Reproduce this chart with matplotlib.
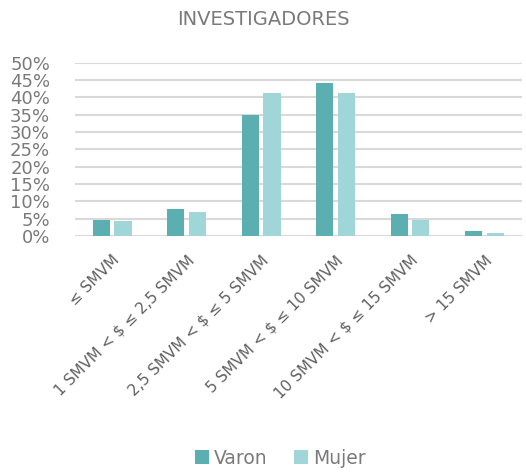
import numpy as np
import matplotlib
matplotlib.use("Agg")
import matplotlib.pyplot as plt
from matplotlib.ticker import PercentFormatter

categorias = ["≤ SMVM", "1 SMVM < $ ≤ 2,5 SMVM", "2,5 SMVM < $ ≤ 5 SMVM",
              "5 SMVM < $ ≤ 10 SMVM", "10 SMVM < $ ≤ 15 SMVM", "> 15 SMVM"]
varon = [4.6, 7.7, 34.9, 44.1, 6.3, 1.4]
mujer = [4.3, 6.8, 41.3, 41.2, 4.6, 0.8]

gris = "#7a7a7a"
plt.rcParams["font.family"] = ["DejaVu Sans"]

fig = plt.figure(figsize=(5.26, 4.74), dpi=100)
ax = fig.add_axes([0.1426, 0.502, 0.8494, 0.3657])

x = np.arange(len(categorias))
ancho = 0.23
ax.bar(x - 0.145, varon, ancho, color="#5bafb0", label="Varon", zorder=3)
ax.bar(x + 0.145, mujer, ancho, color="#a0d6d8", label="Mujer", zorder=3)

ax.set_xlim(-0.5, len(categorias) - 0.5)
ax.set_ylim(0, 50)
ax.set_yticks(np.arange(0, 51, 5))
ax.yaxis.set_major_formatter(PercentFormatter(decimals=0))
ax.grid(axis="y", color="#d9d9d9", linewidth=1.5, zorder=0)
for s in ax.spines.values():
    s.set_visible(False)
ax.tick_params(length=0, colors=gris)
ax.tick_params(axis="y", labelsize=13, pad=18)
ax.set_xticks(x)
ax.set_xticklabels(categorias, rotation=45, ha="right", rotation_mode="anchor",
                   fontsize=11, color="#606060")
ax.tick_params(axis="x", pad=12)

fig.suptitle("INVESTIGADORES", y=0.978, fontsize=14, color=gris)
fig.legend(loc="center", bbox_to_anchor=(0.533, 1 - 458 / 474), ncol=2, frameon=False,
           fontsize=13.5, labelcolor=gris, handlelength=0.75, handleheight=0.75,
           handletextpad=0.25, columnspacing=1.4)

fig.savefig("out.png", dpi=100)
